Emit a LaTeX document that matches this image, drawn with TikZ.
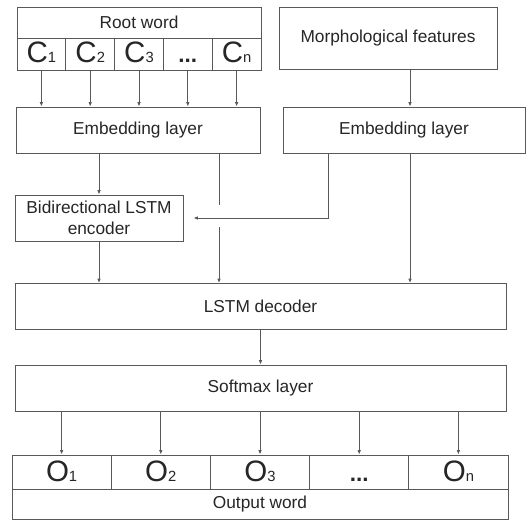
\documentclass[tikz,border=0pt]{standalone}
\usepackage{fontspec}
\setmainfont{Liberation Sans}
\usetikzlibrary{positioning, calc, arrows.meta}

\newcommand{\txtsize}{\fontsize{12.3}{14.5}\selectfont}
\newcommand{\symsub}[2]{{\fontsize{21}{21}\selectfont #1}{\fontsize{10.5}{10.5}\selectfont #2}}
\newcommand{\symdots}{{\fontsize{16}{16}\selectfont\textbf{...}}}

\begin{document}
\begin{tikzpicture}[
  >={Latex[length=1.1mm, width=0.9mm]}, line width=0.65pt, color=black!65,
  word/.style  = {draw, rectangle, minimum width=6.1cm, minimum height=0.775cm,
                  inner sep=0pt, font=\txtsize, text=black!85},
  chr/.style   = {draw, rectangle, minimum width=1.22cm, minimum height=0.8cm,
                  inner sep=0pt, text=black!85, text height=0.53cm, text depth=0.08cm},
  emb/.style   = {draw, rectangle, minimum height=1.15cm, inner sep=0pt,
                  align=center, font=\txtsize, text=black!85},
  wide/.style  = {draw, rectangle, minimum width=12.275cm, minimum height=1.15cm,
                  inner sep=0pt, font=\txtsize, text=black!85},
  outc/.style  = {draw, rectangle, minimum width=2.48cm, minimum height=0.85cm,
                  inner sep=0pt, text=black!85, text height=0.53cm, text depth=0.06cm},
]
  \useasboundingbox (0,0) rectangle (13.175,-13);

  % ── root word and its characters ──────────────────────────────────────
  \node[word] (root) at (3.475,-0.5625) {Root word};
  \node[chr] (c1) at (1.035,-1.35) {\symsub{C}{1}};
  \node[chr] (c2) at (2.255,-1.35) {\symsub{C}{2}};
  \node[chr] (c3) at (3.475,-1.35) {\symsub{C}{3}};
  \node[chr] (c4) at (4.695,-1.35) {\symdots};
  \node[chr] (c5) at (5.915,-1.35) {\symsub{C}{n}};

  \node[emb, minimum width=5.45cm, minimum height=1.55cm] (morph) at (9.7,-0.95)
        {Morphological features};

  % ── embedding layers ──────────────────────────────────────────────────
  \node[emb, minimum width=6.1cm]  (emb1) at (3.45,-3.25) {Embedding layer};
  \node[emb, minimum width=6.05cm] (emb2) at (10.1,-3.25) {Embedding layer};

  \draw[->] (c1.south) -- (c1.south |- emb1.north);
  \draw[->] (c2.south) -- (c2.south |- emb1.north);
  \draw[->] (c3.south) -- (c3.south |- emb1.north);
  \draw[->] (c4.south) -- (c4.south |- emb1.north);
  \draw[->] (c5.south) -- (c5.south |- emb1.north);

  \coordinate (mf) at ($(morph.south)+(0.55,0)$);
  \draw[->] (mf) -- (mf |- emb2.north);

  % ── encoder and decoder ───────────────────────────────────────────────
  \node[emb, minimum width=4.2cm] (enc) at (2.475,-5.45) {Bidirectional LSTM\\encoder};
  \node[wide] (dec) at (6.5125,-7.6625) {LSTM decoder};

  \draw[->] (enc.north |- emb1.south) -- (enc.north);
  \draw[->] (enc.south) -- (enc.south |- dec.north);

  \coordinate (e1b) at ($(emb1.south)+(2.025,0)$);
  \draw (e1b) -- ++(0,-1.3);
  \draw[->] ($(e1b)+(0,-1.85)$) -- (e1b |- dec.north);

  \coordinate (e2a) at ($(emb2.south)+(-1.9,0)$);
  \coordinate (e2b) at ($(emb2.south)+(0.15,0)$);
  \draw[->, shorten >=0.25cm] (e2a) |- (enc.east);
  \draw[->] (e2b) -- (e2b |- dec.north);

  % ── softmax and output word ───────────────────────────────────────────
  \node[wide] (soft) at (6.5125,-9.7) {Softmax layer};
  \draw[->] (dec) -- (soft);

  \node[outc] (o1) at (1.54,-11.8)  {\symsub{O}{1}};
  \node[outc] (o2) at (4.02,-11.8)  {\symsub{O}{2}};
  \node[outc] (o3) at (6.5,-11.8)   {\symsub{O}{3}};
  \node[outc] (o4) at (8.98,-11.8)  {\symdots};
  \node[outc] (o5) at (11.46,-11.8) {\symsub{O}{n}};
  \node[wide, minimum width=12.4cm, minimum height=0.75cm] (outw) at (6.5,-12.6) {Output word};

  \draw[->] (o1 |- soft.south) -- (o1.north);
  \draw[->] (o2 |- soft.south) -- (o2.north);
  \draw[->] (o3 |- soft.south) -- (o3.north);
  \draw[->] (o4 |- soft.south) -- (o4.north);
  \draw[->] (o5 |- soft.south) -- (o5.north);

\end{tikzpicture}
\end{document}
